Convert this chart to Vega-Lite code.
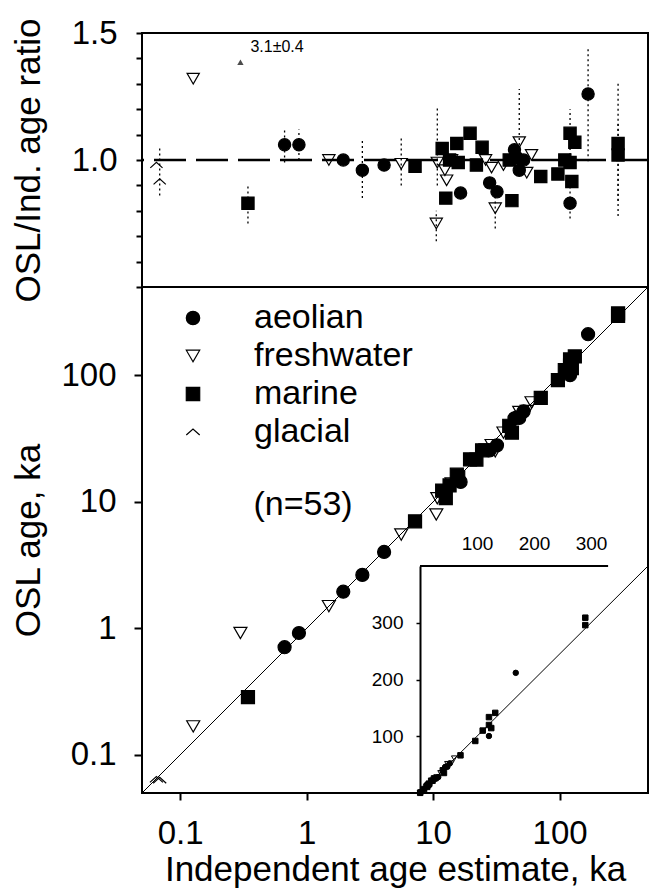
{
  "$schema": "https://vega.github.io/schema/vega-lite/v6.json",
  "width": 506,
  "height": 760,
  "autosize": {"type": "none"},
  "padding": {"left": 142, "top": 33, "right": 7, "bottom": 95},
  "background": "white",
  "config": {
    "font": "Liberation Sans",
    "view": {"stroke": "black", "strokeWidth": 2},
    "axis": {"labelFont": "Liberation Sans", "titleFont": "Liberation Sans", "titleFontWeight": "normal", "labelColor": "black", "titleColor": "black", "tickColor": "black", "domainColor": "black", "grid": false, "labelOverlap": false, "labelFlush": false}
  },
  "datasets": {
    "samples": [
      {"ind": 0.069, "osl": 0.063, "ratio": 0.915, "lo": 0.86, "hi": 1.05, "type": "glacial"},
      {"ind": 0.065, "osl": 0.064, "ratio": 0.98, "type": "glacial"},
      {"ind": 0.127, "osl": 0.168, "ratio": 1.32, "type": "freshwater"},
      {"ind": 0.30, "osl": 0.92, "ratio": 3.07, "type": "freshwater"},
      {"ind": 0.344, "osl": 0.286, "ratio": 0.83, "lo": 0.75, "hi": 0.9, "type": "marine"},
      {"ind": 0.67, "osl": 0.71, "ratio": 1.06, "lo": 0.99, "hi": 1.12, "type": "aeolian"},
      {"ind": 0.87, "osl": 0.92, "ratio": 1.06, "lo": 1.0, "hi": 1.12, "type": "aeolian"},
      {"ind": 1.5, "osl": 1.5, "ratio": 1.0, "type": "freshwater"},
      {"ind": 1.95, "osl": 1.95, "ratio": 1.0, "type": "aeolian"},
      {"ind": 2.76, "osl": 2.65, "ratio": 0.96, "lo": 0.85, "hi": 1.08, "type": "aeolian"},
      {"ind": 4.1, "osl": 4.02, "ratio": 0.98, "type": "aeolian"},
      {"ind": 5.6, "osl": 5.52, "ratio": 0.985, "lo": 0.9, "hi": 1.09, "type": "freshwater"},
      {"ind": 7.2, "osl": 7.02, "ratio": 0.975, "type": "marine"},
      {"ind": 10.6, "osl": 7.95, "ratio": 0.75, "lo": 0.68, "hi": 0.8, "type": "freshwater"},
      {"ind": 10.8, "osl": 10.7, "ratio": 0.99, "lo": 0.9, "hi": 1.21, "type": "freshwater"},
      {"ind": 11.8, "osl": 12.3, "ratio": 1.045, "type": "marine"},
      {"ind": 12.4, "osl": 11.9, "ratio": 0.96, "type": "freshwater"},
      {"ind": 12.8, "osl": 11.8, "ratio": 0.92, "type": "freshwater"},
      {"ind": 12.6, "osl": 10.7, "ratio": 0.85, "type": "marine"},
      {"ind": 13.5, "osl": 13.5, "ratio": 1.0, "type": "marine"},
      {"ind": 14, "osl": 14, "ratio": 1.0, "type": "freshwater"},
      {"ind": 15.4, "osl": 16.4, "ratio": 1.065, "type": "marine"},
      {"ind": 15.8, "osl": 15.6, "ratio": 0.99, "type": "marine"},
      {"ind": 16.5, "osl": 14.4, "ratio": 0.87, "type": "aeolian"},
      {"ind": 19.6, "osl": 21.7, "ratio": 1.105, "type": "marine"},
      {"ind": 22, "osl": 21.6, "ratio": 0.98, "type": "marine"},
      {"ind": 24.4, "osl": 25.6, "ratio": 1.05, "type": "marine"},
      {"ind": 26, "osl": 26, "ratio": 1.0, "type": "freshwater"},
      {"ind": 28, "osl": 25.5, "ratio": 0.91, "type": "aeolian"},
      {"ind": 29, "osl": 28.1, "ratio": 0.97, "type": "freshwater"},
      {"ind": 31, "osl": 25.1, "ratio": 0.81, "lo": 0.73, "hi": 0.9, "type": "freshwater"},
      {"ind": 32, "osl": 28, "ratio": 0.875, "type": "aeolian"},
      {"ind": 36, "osl": 35.3, "ratio": 0.98, "type": "freshwater"},
      {"ind": 40, "osl": 40, "ratio": 1.0, "type": "marine"},
      {"ind": 42, "osl": 35.3, "ratio": 0.84, "type": "marine"},
      {"ind": 44, "osl": 45.8, "ratio": 1.04, "type": "aeolian"},
      {"ind": 46, "osl": 46.5, "ratio": 1.01, "type": "aeolian"},
      {"ind": 48, "osl": 46.1, "ratio": 0.96, "type": "aeolian"},
      {"ind": 48, "osl": 51.4, "ratio": 1.07, "lo": 0.98, "hi": 1.28, "type": "freshwater"},
      {"ind": 52, "osl": 52, "ratio": 1.0, "type": "aeolian"},
      {"ind": 55, "osl": 52.3, "ratio": 0.95, "type": "freshwater"},
      {"ind": 60, "osl": 61.2, "ratio": 1.02, "type": "freshwater"},
      {"ind": 71, "osl": 66.4, "ratio": 0.935, "type": "marine"},
      {"ind": 97, "osl": 91.7, "ratio": 0.945, "type": "marine"},
      {"ind": 110, "osl": 110, "ratio": 1.0, "type": "marine"},
      {"ind": 121, "osl": 133.7, "ratio": 1.105, "lo": 1.0, "hi": 1.2, "type": "marine"},
      {"ind": 132, "osl": 141.2, "ratio": 1.07, "type": "marine"},
      {"ind": 121, "osl": 119.8, "ratio": 0.99, "type": "marine"},
      {"ind": 125, "osl": 114.4, "ratio": 0.915, "type": "marine"},
      {"ind": 121, "osl": 100.4, "ratio": 0.83, "lo": 0.77, "hi": 0.9, "type": "aeolian"},
      {"ind": 168, "osl": 211.7, "ratio": 1.26, "lo": 0.995, "hi": 1.44, "type": "aeolian"},
      {"ind": 290, "osl": 308.9, "ratio": 1.065, "lo": 0.84, "hi": 1.3, "type": "marine"},
      {"ind": 290, "osl": 295.8, "ratio": 1.02, "lo": 0.78, "hi": 1.15, "type": "marine"}
    ],
    "offscale": [{"ind": 0.30, "ratio": 1.385, "tx": 0.36, "ty": 1.445, "label": "3.1±0.4"}],
    "mainline": [{"x": 0.05, "y": 0.05, "x2": 500, "y2": 500}],
    "insetline": [{"x": 0, "y": 0, "x2": 400, "y2": 400}],
    "insettop": [{"x": 0, "x2": 330, "y": 400}],
    "note": [{"x": 0.38, "y": 9.5, "label": "(n=53)"}]
  },
  "layer": [
    {
      "layer": [
        {
          "data": {"values": [{}]},
          "mark": {"type": "rule", "stroke": "black", "strokeWidth": 2.5, "strokeDash": [32, 10]},
          "encoding": {
            "y": {"datum": 1, "type": "quantitative",
              "scale": {"type": "linear", "domain": [0.5, 1.5], "range": [254, 0], "nice": false, "zero": false},
              "axis": {"orient": "left", "values": [0.5, 0.6, 0.7, 0.8, 0.9, 1.0, 1.1, 1.2, 1.3, 1.4, 1.5],
                "labelExpr": "datum.value == 1 ? '1.0' : (datum.value == 1.5 ? '1.5' : '')",
                "domain": false, "ticks": true, "tickSize": 6, "tickWidth": 2, "labelPadding": 19, "labelFontSize": 33,
                "title": "OSL/Ind. age ratio", "titleFontSize": 35, "titleX": -114, "titleBaseline": "middle"}}
          }
        },
        {
          "data": {"name": "samples"},
          "transform": [{"filter": "isValid(datum.lo)"}],
          "mark": {"type": "rule", "stroke": "black", "strokeWidth": 1.3, "strokeDash": [2, 3]},
          "encoding": {
            "x": {"field": "ind", "type": "quantitative", "scale": {"type": "log", "domain": [0.05, 500], "nice": false}, "axis": null},
            "y": {"field": "lo", "type": "quantitative", "scale": {"type": "linear", "domain": [0.5, 1.5], "range": [254, 0], "nice": false, "zero": false}},
            "y2": {"field": "hi"}
          }
        },
        {
          "data": {"name": "samples"},
          "transform": [{"filter": "datum.ratio <= 1.5"}],
          "mark": {"type": "point", "size": 150, "strokeWidth": 1.2, "opacity": 1},
          "encoding": {
            "x": {"field": "ind", "type": "quantitative", "scale": {"type": "log", "domain": [0.05, 500], "nice": false}, "axis": null},
            "y": {"field": "ratio", "type": "quantitative", "scale": {"type": "linear", "domain": [0.5, 1.5], "range": [254, 0], "nice": false, "zero": false}},
            "shape": {"field": "type", "type": "nominal",
              "scale": {"domain": ["aeolian", "freshwater", "marine", "glacial"], "range": ["circle", "triangle-down", "square", "M-1,0.45L0,-0.45L1,0.45"]},
              "legend": {"orient": "none", "legendX": 34, "legendY": 268, "title": null, "labelFontSize": 34, "labelFont": "Liberation Sans", "labelColor": "black", "symbolSize": 180, "rowPadding": 4, "labelOffset": 44, "symbolStrokeWidth": 1.2, "padding": 0}},
            "fill": {"field": "type", "type": "nominal",
              "scale": {"domain": ["aeolian", "freshwater", "marine", "glacial"], "range": ["black", "transparent", "black", "transparent"]},
              "legend": {"orient": "none", "legendX": 34, "legendY": 268, "title": null, "labelFontSize": 34, "labelFont": "Liberation Sans", "labelColor": "black", "symbolSize": 180, "rowPadding": 4, "labelOffset": 44, "symbolStrokeWidth": 1.2, "padding": 0}},
            "stroke": {"field": "type", "type": "nominal",
              "scale": {"domain": ["aeolian", "freshwater", "marine", "glacial"], "range": ["black", "black", "black", "black"]},
              "legend": {"orient": "none", "legendX": 34, "legendY": 268, "title": null, "labelFontSize": 34, "labelFont": "Liberation Sans", "labelColor": "black", "symbolSize": 180, "rowPadding": 4, "labelOffset": 44, "symbolStrokeWidth": 1.2, "padding": 0}}
          }
        },
        {
          "data": {"name": "offscale"},
          "mark": {"type": "point", "shape": "triangle-up", "filled": true, "color": "black", "size": 40},
          "encoding": {
            "x": {"field": "ind", "type": "quantitative", "scale": {"type": "log", "domain": [0.05, 500], "nice": false}, "axis": null},
            "y": {"field": "ratio", "type": "quantitative", "scale": {"type": "linear", "domain": [0.5, 1.5], "range": [254, 0], "nice": false, "zero": false}}
          }
        },
        {
          "data": {"name": "offscale"},
          "mark": {"type": "text", "align": "left", "baseline": "middle", "fontSize": 16, "color": "black"},
          "encoding": {
            "x": {"field": "tx", "type": "quantitative", "scale": {"type": "log", "domain": [0.05, 500], "nice": false}, "axis": null},
            "y": {"field": "ty", "type": "quantitative", "scale": {"type": "linear", "domain": [0.5, 1.5], "range": [254, 0], "nice": false, "zero": false}},
            "text": {"field": "label"}
          }
        }
      ]
    },
    {
      "layer": [
        {
          "data": {"values": [{}]},
          "mark": {"type": "rule", "stroke": "black", "strokeWidth": 2},
          "encoding": {
            "y": {"datum": 500, "type": "quantitative",
              "scale": {"type": "log", "domain": [0.05, 500], "range": [760, 254], "nice": false},
              "axis": {"orient": "left", "values": [0.1, 1, 10, 100], "format": "~g", "domain": false, "tickSize": 8, "tickWidth": 2, "labelPadding": 18, "labelFontSize": 33,
                "title": "OSL age, ka", "titleFontSize": 35, "titleX": -114, "titleBaseline": "middle"}}
          }
        },
        {
          "data": {"name": "mainline"},
          "mark": {"type": "rule", "stroke": "black", "strokeWidth": 1},
          "encoding": {
            "x": {"field": "x", "type": "quantitative", "scale": {"type": "log", "domain": [0.05, 500], "nice": false},
              "axis": {"orient": "bottom", "values": [0.1, 1, 10, 100], "format": "~g", "domain": false, "tickSize": 7, "tickWidth": 2, "labelPadding": 43, "labelBaseline": "alphabetic", "labelFontSize": 33,
                "title": "Independent age estimate, ka", "titleFontSize": 35, "titleY": 87, "titleBaseline": "alphabetic"}},
            "y": {"field": "y", "type": "quantitative", "scale": {"type": "log", "domain": [0.05, 500], "range": [760, 254], "nice": false}},
            "x2": {"field": "x2"},
            "y2": {"field": "y2"}
          }
        },
        {
          "data": {"name": "samples"},
          "mark": {"type": "point", "size": 170, "strokeWidth": 1.2, "opacity": 1},
          "encoding": {
            "x": {"field": "ind", "type": "quantitative", "scale": {"type": "log", "domain": [0.05, 500], "nice": false}},
            "y": {"field": "osl", "type": "quantitative", "scale": {"type": "log", "domain": [0.05, 500], "range": [760, 254], "nice": false}},
            "shape": {"field": "type", "type": "nominal",
              "scale": {"domain": ["aeolian", "freshwater", "marine", "glacial"], "range": ["circle", "triangle-down", "square", "M-1,0.45L0,-0.45L1,0.45"]},
              "legend": {"orient": "none", "legendX": 34, "legendY": 268, "title": null, "labelFontSize": 34, "labelFont": "Liberation Sans", "labelColor": "black", "symbolSize": 180, "rowPadding": 4, "labelOffset": 44, "symbolStrokeWidth": 1.2, "padding": 0}},
            "fill": {"field": "type", "type": "nominal",
              "scale": {"domain": ["aeolian", "freshwater", "marine", "glacial"], "range": ["black", "transparent", "black", "transparent"]},
              "legend": {"orient": "none", "legendX": 34, "legendY": 268, "title": null, "labelFontSize": 34, "labelFont": "Liberation Sans", "labelColor": "black", "symbolSize": 180, "rowPadding": 4, "labelOffset": 44, "symbolStrokeWidth": 1.2, "padding": 0}},
            "stroke": {"field": "type", "type": "nominal",
              "scale": {"domain": ["aeolian", "freshwater", "marine", "glacial"], "range": ["black", "black", "black", "black"]},
              "legend": {"orient": "none", "legendX": 34, "legendY": 268, "title": null, "labelFontSize": 34, "labelFont": "Liberation Sans", "labelColor": "black", "symbolSize": 180, "rowPadding": 4, "labelOffset": 44, "symbolStrokeWidth": 1.2, "padding": 0}}
          }
        },
        {
          "data": {"name": "note"},
          "mark": {"type": "text", "align": "left", "baseline": "middle", "fontSize": 34, "color": "black"},
          "encoding": {
            "x": {"field": "x", "type": "quantitative", "scale": {"type": "log", "domain": [0.05, 500], "nice": false}},
            "y": {"field": "y", "type": "quantitative", "scale": {"type": "log", "domain": [0.05, 500], "range": [760, 254], "nice": false}},
            "text": {"field": "label"}
          }
        }
      ]
    },
    {
      "layer": [
        {
          "data": {"name": "insettop"},
          "mark": {"type": "rule", "stroke": "black", "strokeWidth": 2},
          "encoding": {
            "x": {"field": "x", "type": "quantitative", "scale": {"type": "linear", "domain": [0, 400], "range": [278, 506], "nice": false, "zero": false},
              "axis": {"orient": "top", "offset": -533, "values": [100, 200, 300], "domain": false, "ticks": false, "labelPadding": 13, "labelFontSize": 19, "title": null}},
            "x2": {"field": "x2"},
            "y": {"field": "y", "type": "quantitative", "scale": {"type": "linear", "domain": [0, 400], "range": [760, 533], "nice": false, "zero": false},
              "axis": {"orient": "left", "offset": -278, "values": [100, 200, 300], "domain": true, "domainWidth": 2, "tickSize": 4, "tickWidth": 1.5, "labelPadding": 13, "labelFontSize": 19, "title": null}}
          }
        },
        {
          "data": {"name": "insetline"},
          "mark": {"type": "rule", "stroke": "black", "strokeWidth": 1},
          "encoding": {
            "x": {"field": "x", "type": "quantitative", "scale": {"type": "linear", "domain": [0, 400], "range": [278, 506], "nice": false, "zero": false}},
            "y": {"field": "y", "type": "quantitative", "scale": {"type": "linear", "domain": [0, 400], "range": [760, 533], "nice": false, "zero": false}},
            "x2": {"field": "x2"},
            "y2": {"field": "y2"}
          }
        },
        {
          "data": {"name": "samples"},
          "mark": {"type": "point", "size": 30, "strokeWidth": 1, "opacity": 1},
          "encoding": {
            "x": {"field": "ind", "type": "quantitative", "scale": {"type": "linear", "domain": [0, 400], "range": [278, 506], "nice": false, "zero": false}},
            "y": {"field": "osl", "type": "quantitative", "scale": {"type": "linear", "domain": [0, 400], "range": [760, 533], "nice": false, "zero": false}},
            "shape": {"field": "type", "type": "nominal",
              "scale": {"domain": ["aeolian", "freshwater", "marine", "glacial"], "range": ["circle", "triangle-down", "square", "M-1,0.45L0,-0.45L1,0.45"]},
              "legend": {"orient": "none", "legendX": 34, "legendY": 268, "title": null, "labelFontSize": 34, "labelFont": "Liberation Sans", "labelColor": "black", "symbolSize": 180, "rowPadding": 4, "labelOffset": 44, "symbolStrokeWidth": 1.2, "padding": 0}},
            "fill": {"field": "type", "type": "nominal",
              "scale": {"domain": ["aeolian", "freshwater", "marine", "glacial"], "range": ["black", "transparent", "black", "transparent"]},
              "legend": {"orient": "none", "legendX": 34, "legendY": 268, "title": null, "labelFontSize": 34, "labelFont": "Liberation Sans", "labelColor": "black", "symbolSize": 180, "rowPadding": 4, "labelOffset": 44, "symbolStrokeWidth": 1.2, "padding": 0}},
            "stroke": {"field": "type", "type": "nominal",
              "scale": {"domain": ["aeolian", "freshwater", "marine", "glacial"], "range": ["black", "black", "black", "black"]},
              "legend": {"orient": "none", "legendX": 34, "legendY": 268, "title": null, "labelFontSize": 34, "labelFont": "Liberation Sans", "labelColor": "black", "symbolSize": 180, "rowPadding": 4, "labelOffset": 44, "symbolStrokeWidth": 1.2, "padding": 0}}
          }
        }
      ]
    }
  ],
  "resolve": {
    "scale": {"x": "independent", "y": "independent"},
    "axis": {"x": "independent", "y": "independent"}
  }
}
